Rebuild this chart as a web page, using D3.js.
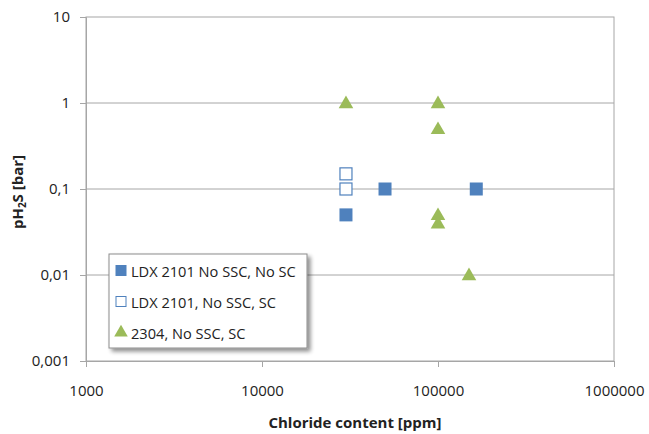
<!DOCTYPE html>
<html>
<head>
<meta charset="utf-8">
<script src="https://cdn.jsdelivr.net/npm/d3@7"></script>
<style>
  body { margin: 0; background: #fff; }
  text { font-family: "Open Sans", "DejaVu Sans", sans-serif; fill: #222; }
  .tick-label { font-size: 15px; }
  .axis-title { font-size: 15px; font-weight: bold; }
  .legend-text { font-size: 14.6px; }
</style>
</head>
<body>
<div id="wrapper"></div>
<script>
const xTicks = [1000, 10000, 100000, 1000000]
const yTicks = [0.001, 0.01, 0.1, 1, 10]
const yTickLabels = ["0,001", "0,01", "0,1", "1", "10"]

const seriesNames = ["LDX 2101 No SSC, No SC", "LDX 2101, No SSC, SC", "2304, No SSC, SC"]

const ldxNoScX = [30000, 50000, 165000]
const ldxNoScY = [0.05, 0.1, 0.1]

const ldxScX = [30000, 30000]
const ldxScY = [0.15, 0.1]

const duplexX = [30000, 100000, 100000, 100000, 100000, 150000]
const duplexY = [1, 1, 0.5, 0.05, 0.04, 0.01]

const blue = "#4f81bd"
const green = "#9bbb59"

const dimensions = {
  width: 649,
  height: 434,
  margin: { top: 17, right: 35, bottom: 73, left: 86 },
}
dimensions.boundedWidth = dimensions.width - dimensions.margin.left - dimensions.margin.right
dimensions.boundedHeight = dimensions.height - dimensions.margin.top - dimensions.margin.bottom

const svg = d3.select("#wrapper").append("svg")
  .attr("width", dimensions.width)
  .attr("height", dimensions.height)

const defs = svg.append("defs")
const shadow = defs.append("filter").attr("id", "shadow")
  .attr("x", "-10%").attr("y", "-10%").attr("width", "130%").attr("height", "140%")
shadow.append("feGaussianBlur").attr("in", "SourceAlpha").attr("stdDeviation", 2)
shadow.append("feOffset").attr("dx", 3).attr("dy", 3).attr("result", "blur")
shadow.append("feComponentTransfer").append("feFuncA").attr("type", "linear").attr("slope", 0.45)
const merge = shadow.append("feMerge")
merge.append("feMergeNode")
merge.append("feMergeNode").attr("in", "SourceGraphic")

const bounds = svg.append("g")
  .attr("transform", `translate(${dimensions.margin.left},${dimensions.margin.top})`)

const xScale = d3.scaleLog()
  .domain([1000, 1000000])
  .range([0, dimensions.boundedWidth])

const yScale = d3.scaleLog()
  .domain([0.001, 10])
  .range([dimensions.boundedHeight, 0])

// gridlines
bounds.selectAll(".grid")
  .data(yTicks.slice(1, -1))
  .enter().append("line")
  .attr("x1", 0)
  .attr("x2", dimensions.boundedWidth)
  .attr("y1", d => yScale(d))
  .attr("y2", d => yScale(d))
  .attr("stroke", "#a6a6a6")
  .attr("stroke-width", 1)

// plot area border
bounds.append("rect")
  .attr("x", 0).attr("y", 0)
  .attr("width", dimensions.boundedWidth)
  .attr("height", dimensions.boundedHeight)
  .attr("fill", "none")
  .attr("stroke", "#a6a6a6")

// y axis
const yAxisGenerator = d3.axisLeft(yScale)
  .tickValues(yTicks)
  .tickFormat((d, i) => yTickLabels[i])
  .tickSize(6)
  .tickPadding(10)
const yAxis = bounds.append("g").call(yAxisGenerator)
yAxis.select(".domain").attr("stroke", "#a6a6a6")
yAxis.selectAll(".tick line").attr("stroke", "#a6a6a6")
yAxis.selectAll(".tick text").attr("class", "tick-label").attr("font-family", null).attr("font-size", null)

// x axis
const xAxisGenerator = d3.axisBottom(xScale)
  .tickValues(xTicks)
  .tickFormat(d3.format("d"))
  .tickSize(6)
  .tickPadding(18)
const xAxis = bounds.append("g")
  .attr("transform", `translate(0,${dimensions.boundedHeight})`)
  .call(xAxisGenerator)
xAxis.select(".domain").attr("stroke", "#a6a6a6")
xAxis.selectAll(".tick line").attr("stroke", "#a6a6a6")
xAxis.selectAll(".tick text").attr("class", "tick-label").attr("font-family", null).attr("font-size", null)

// axis titles
svg.append("text")
  .attr("class", "axis-title")
  .attr("x", 355)
  .attr("y", 428)
  .attr("text-anchor", "middle")
  .text("Chloride content [ppm]")

const yTitle = svg.append("text")
  .attr("class", "axis-title")
  .attr("transform", `translate(23, ${dimensions.margin.top + yScale(0.1) + 3}) rotate(-90)`)
  .attr("text-anchor", "middle")
yTitle.append("tspan").text("pH")
yTitle.append("tspan").attr("font-size", "10px").attr("dy", 3).text("2")
yTitle.append("tspan").attr("dy", -3).text("S [bar]")

// markers
const squareSize = 13
const triangle = d3.symbol().type(d3.symbolTriangle).size(92)

bounds.selectAll(".ldx-no-sc")
  .data(ldxNoScX.map((x, i) => [x, ldxNoScY[i]]))
  .enter().append("rect")
  .attr("x", d => xScale(d[0]) - squareSize / 2)
  .attr("y", d => yScale(d[1]) - squareSize / 2)
  .attr("width", squareSize)
  .attr("height", squareSize)
  .attr("fill", blue)

bounds.selectAll(".ldx-sc")
  .data(ldxScX.map((x, i) => [x, ldxScY[i]]))
  .enter().append("rect")
  .attr("x", d => xScale(d[0]) - squareSize / 2 + 0.5)
  .attr("y", d => yScale(d[1]) - squareSize / 2 + 0.5)
  .attr("width", squareSize - 1)
  .attr("height", squareSize - 1)
  .attr("fill", "#fff")
  .attr("stroke", blue)
  .attr("stroke-width", 1.2)

bounds.selectAll(".duplex")
  .data(duplexX.map((x, i) => [x, duplexY[i]]))
  .enter().append("path")
  .attr("transform", d => `translate(${xScale(d[0])},${yScale(d[1]) + 1})`)
  .attr("d", triangle)
  .attr("fill", green)

// legend
const legend = svg.append("g").attr("transform", "translate(109,254)")
legend.append("rect")
  .attr("width", 198)
  .attr("height", 94)
  .attr("fill", "#fff")
  .attr("stroke", "#8c8c8c")
  .attr("filter", "url(#shadow)")

const legendRows = legend.selectAll(".legend-row")
  .data(seriesNames)
  .enter().append("g")
  .attr("transform", (d, i) => `translate(12,${16.5 + i * 31})`)

legendRows.filter((d, i) => i === 0).append("rect")
  .attr("x", -5.5).attr("y", -5.5).attr("width", 11).attr("height", 11)
  .attr("fill", blue)
legendRows.filter((d, i) => i === 1).append("rect")
  .attr("x", -5).attr("y", -5).attr("width", 10).attr("height", 10)
  .attr("fill", "#fff").attr("stroke", blue)
legendRows.filter((d, i) => i === 2).append("path")
  .attr("d", d3.symbol().type(d3.symbolTriangle).size(80))
  .attr("fill", green)

legendRows.append("text")
  .attr("class", "legend-text")
  .attr("x", 10)
  .attr("y", 6)
  .text(d => d)
</script>
</body>
</html>
